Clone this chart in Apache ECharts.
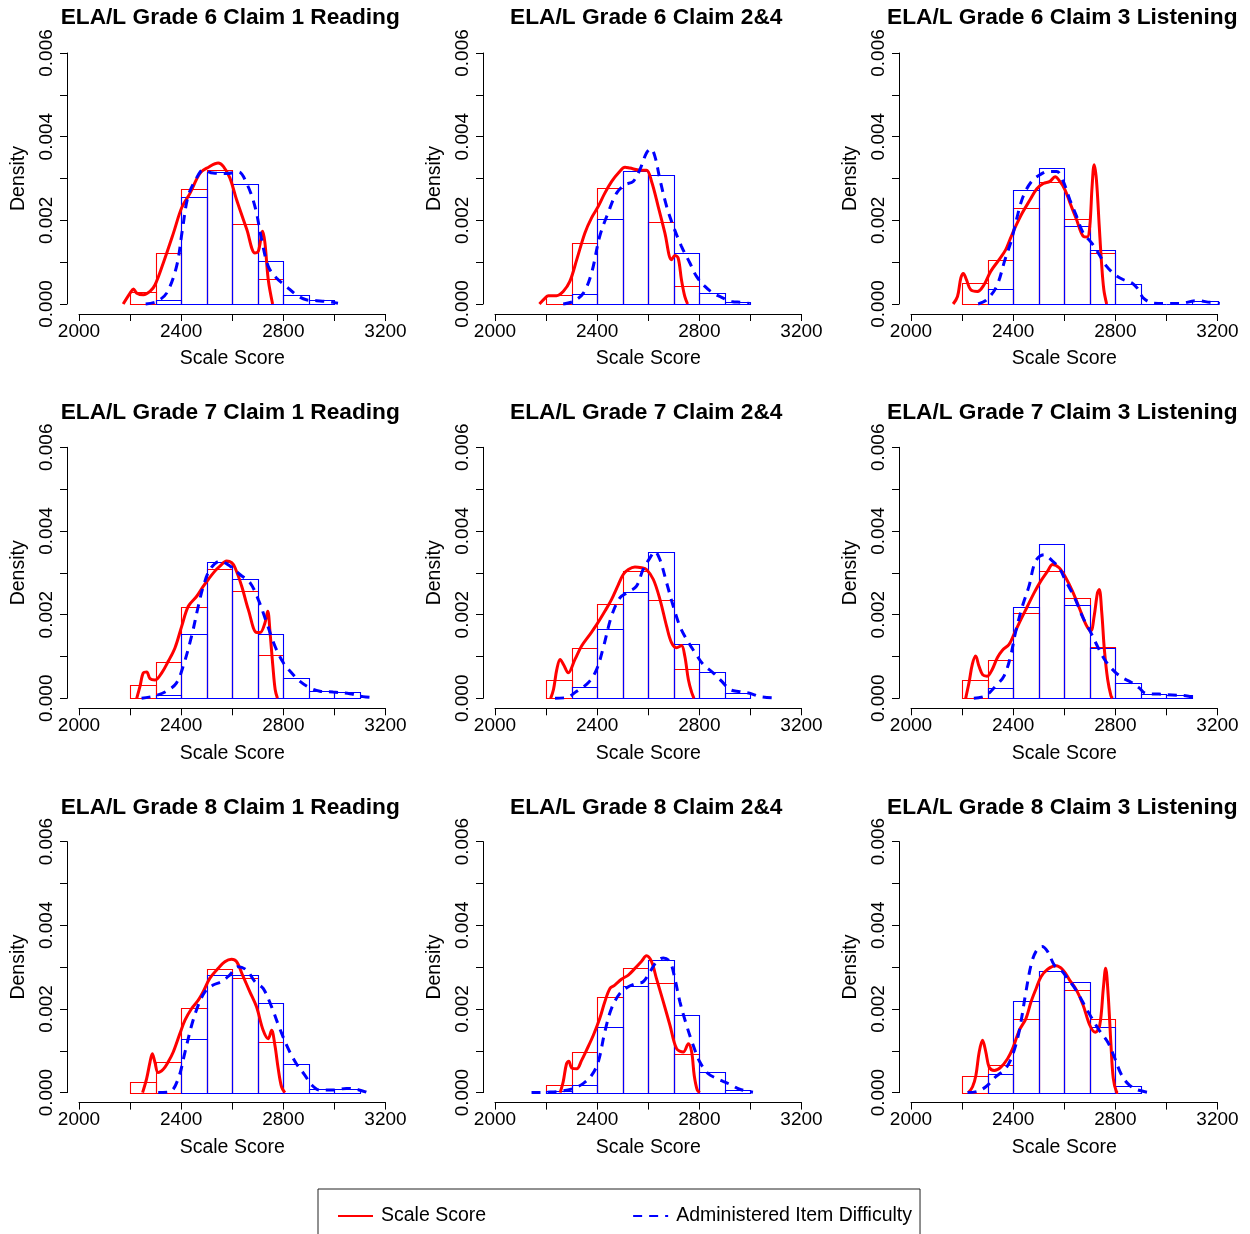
<!DOCTYPE html>
<html><head><meta charset="utf-8">
<script src="https://cdn.jsdelivr.net/npm/echarts@6/dist/echarts.min.js"></script>
<style>html,body{margin:0;padding:0;background:#fff}#c{width:1250px;height:1234px}</style>
</head><body><div id="c"></div><script>
const FONT = 'Liberation Sans';
const panelTitles = [
  'ELA/L Grade 6 Claim 1 Reading', 'ELA/L Grade 6 Claim 2&4', 'ELA/L Grade 6 Claim 3 Listening',
  'ELA/L Grade 7 Claim 1 Reading', 'ELA/L Grade 7 Claim 2&4', 'ELA/L Grade 7 Claim 3 Listening',
  'ELA/L Grade 8 Claim 1 Reading', 'ELA/L Grade 8 Claim 2&4', 'ELA/L Grade 8 Claim 3 Listening'
];
const seriesNames = ['Scale Score', 'Administered Item Difficulty'];
const xAxisTitle = 'Scale Score';
const yAxisTitle = 'Density';
const xTickLabels = ['2000', '2400', '2800', '3200'];
const yTickLabels = ['0.000', '0.002', '0.004', '0.006'];
const binStarts = [2200, 2300, 2400, 2500, 2600, 2700, 2800, 2900, 3000, 3100];
const binWidth = 100;

// Histogram densities per bin (null = no bin)
const g6c1ScaleHist = [0.00028, 0.00122, 0.00275, 0.00321, 0.00192, 0.00060];
const g6c1ItemHist  = [null, 0.00009, 0.00255, 0.00316, 0.00288, 0.00102, 0.00022, 0.00010];
const g6c24ScaleHist = [0.00022, 0.00146, 0.00278, 0.00317, 0.00195, 0.00044];
const g6c24ItemHist  = [null, 0.00023, 0.00202, 0.00317, 0.00309, 0.00122, 0.00026, 0.00004];
const g6c3ScaleHist = [0.00050, 0.00106, 0.00229, 0.00291, 0.00202, 0.00122];
const g6c3ItemHist  = [null, 0.00036, 0.00272, 0.00325, 0.00186, 0.00130, 0.00049, 0, 0, 0.00006];
const g7c1ScaleHist = [0.00031, 0.00087, 0.00219, 0.00309, 0.00256, 0.00103];
const g7c1ItemHist  = [null, 0.00008, 0.00153, 0.00325, 0.00285, 0.00153, 0.00048, 0.00017, 0.00014];
const g7c24ScaleHist = [0.00044, 0.00121, 0.00226, 0.00305, 0.00236, 0.00071];
const g7c24ItemHist  = [null, 0.00028, 0.00166, 0.00254, 0.00349, 0.00130, 0.00064, 0.00012];
const g7c3ScaleHist = [0.00044, 0.00091, 0.00204, 0.00305, 0.00240, 0.00122];
const g7c3ItemHist  = [null, 0.00024, 0.00219, 0.00368, 0.00223, 0.00121, 0.00037, 0.00010, 0.00008];
const g8c1ScaleHist = [0.00026, 0.00072, 0.00203, 0.00296, 0.00273, 0.00122];
const g8c1ItemHist  = [null, null, 0.00128, 0.00282, 0.00282, 0.00215, 0.00069, 0.00008, 0.00008];
const g8c24ScaleHist = [0.00019, 0.00096, 0.00229, 0.00298, 0.00261, 0.00093];
const g8c24ItemHist  = [0.00003, 0.00019, 0.00156, 0.00255, 0.00318, 0.00185, 0.00049, 0.00006];
const g8c3ScaleHist = [0.00039, 0.00065, 0.00175, 0.00291, 0.00246, 0.00175];
const g8c3ItemHist  = [null, 0.00045, 0.00219, 0.00291, 0.00265, 0.00156, 0.00016];

// Density curves [score, density]
const g6c1ScaleDens = [[2173,0],[2200,0.00026],[2213,0.00036],[2226,0.00026],[2252,0.00022],[2278,0.0003],[2298,0.00046],[2330,0.00098],[2370,0.0017],[2402,0.0023],[2435,0.00265],[2474,0.00313],[2507,0.00327],[2545,0.00337],[2565,0.00329],[2591,0.00301],[2617,0.00249],[2657,0.00178],[2689,0.00122],[2702,0.00126],[2719,0.00174],[2728,0.00146],[2741,0.00058],[2758,0]];
const g6c1ItemDens = [[2261,0],[2304,0.00006],[2343,0.00026],[2382,0.0009],[2405,0.00178],[2427,0.00257],[2460,0.00301],[2486,0.0032],[2525,0.00313],[2578,0.00312],[2624,0.00316],[2656,0.00289],[2689,0.00233],[2715,0.00154],[2741,0.0009],[2773,0.00062],[2812,0.00042],[2851,0.00022],[2890,0.0001],[2930,0.00008],[2969,0.00006],[3014,0.00002]];
const g6c24ScaleDens = [[2174,0],[2196,0.00014],[2209,0.0002],[2241,0.0002],[2267,0.0003],[2293,0.00054],[2320,0.00106],[2352,0.0017],[2378,0.00206],[2404,0.00233],[2430,0.00265],[2457,0.00293],[2483,0.00313],[2509,0.00327],[2528,0.00325],[2567,0.0032],[2593,0.0032],[2613,0.00293],[2639,0.00233],[2665,0.0017],[2691,0.00106],[2704,0.00116],[2717,0.0011],[2730,0.00058],[2743,0.00018],[2754,0]];
const g6c24ItemDens = [[2267,0],[2306,0.00006],[2346,0.00026],[2378,0.00074],[2410,0.00162],[2443,0.00218],[2476,0.00265],[2509,0.00285],[2541,0.00293],[2567,0.00321],[2593,0.00361],[2610,0.00371],[2626,0.00353],[2646,0.00297],[2672,0.00233],[2698,0.00186],[2730,0.00138],[2763,0.00098],[2789,0.00066],[2822,0.00042],[2854,0.00026],[2887,0.00016],[2926,0.00006],[2965,0.00004],[2997,0.00001]];
const g6c3ScaleDens = [[2165,0],[2182,0.00018],[2195,0.00062],[2205,0.00073],[2217,0.00058],[2234,0.00034],[2260,0.0003],[2286,0.00046],[2312,0.00078],[2345,0.00106],[2371,0.0013],[2390,0.00158],[2410,0.00186],[2436,0.00218],[2466,0.00249],[2492,0.00275],[2518,0.00288],[2544,0.00293],[2564,0.00304],[2583,0.00293],[2603,0.00273],[2623,0.00241],[2648,0.00202],[2674,0.00162],[2690,0.0016],[2700,0.00186],[2709,0.00281],[2717,0.00333],[2726,0.00297],[2737,0.00186],[2746,0.00098],[2755,0.00034],[2766,0]];
const g6c3ItemDens = [[2263,0],[2296,0.0001],[2335,0.00042],[2368,0.00106],[2394,0.00154],[2413,0.00202],[2439,0.00257],[2472,0.00293],[2505,0.00309],[2538,0.00317],[2570,0.00317],[2596,0.00293],[2622,0.00249],[2648,0.0021],[2674,0.0017],[2707,0.00146],[2733,0.00122],[2766,0.0009],[2799,0.0007],[2832,0.00058],[2865,0.0005],[2891,0.00034],[2910,0.00014],[2949,0.00002],[3000,0.00001],[3052,0.00001],[3117,0.00008],[3170,0.00004],[3209,0.00001]];
const g7c1ScaleDens = [[2226,0],[2239,0.00029],[2252,0.00061],[2265,0.00063],[2278,0.00047],[2298,0.00044],[2324,0.00061],[2350,0.00089],[2376,0.00121],[2402,0.00172],[2428,0.0022],[2461,0.00244],[2487,0.00268],[2506,0.00284],[2532,0.00304],[2552,0.00316],[2578,0.00328],[2598,0.00324],[2611,0.00312],[2637,0.00268],[2663,0.00212],[2696,0.00157],[2709,0.00157],[2728,0.0018],[2739,0.00208],[2748,0.00157],[2759,0.00077],[2768,0.00021],[2777,0]];
const g7c1ItemDens = [[2245,0],[2298,0.00006],[2343,0.00017],[2382,0.00037],[2408,0.00077],[2441,0.00149],[2467,0.0022],[2487,0.00268],[2513,0.00308],[2552,0.00328],[2591,0.00316],[2630,0.00296],[2670,0.00276],[2702,0.00236],[2735,0.0018],[2767,0.00125],[2800,0.00085],[2832,0.00061],[2864,0.00041],[2904,0.00025],[2943,0.00017],[2995,0.00015],[3060,0.00011],[3112,0.00004],[3164,0.00001]];
const g7c24ScaleDens = [[2218,0],[2229,0.00021],[2242,0.00069],[2255,0.00093],[2268,0.00081],[2287,0.00061],[2313,0.00093],[2339,0.00125],[2372,0.00153],[2398,0.00176],[2430,0.00208],[2456,0.00236],[2483,0.00272],[2502,0.00296],[2522,0.00308],[2548,0.00314],[2574,0.00312],[2593,0.00308],[2620,0.00284],[2646,0.00236],[2672,0.00172],[2691,0.00133],[2711,0.00121],[2730,0.00126],[2743,0.00101],[2757,0.00045],[2770,0.00014],[2779,0]];
const g7c24ItemDens = [[2235,0],[2281,0.00002],[2320,0.00017],[2365,0.00037],[2398,0.00069],[2424,0.00121],[2456,0.00196],[2489,0.0024],[2522,0.00254],[2554,0.00268],[2580,0.00308],[2607,0.00336],[2626,0.00351],[2646,0.00331],[2672,0.00276],[2698,0.0022],[2724,0.00172],[2750,0.00141],[2783,0.00109],[2815,0.00081],[2854,0.00061],[2887,0.00041],[2920,0.00021],[2958,0.00016],[2997,0.00012],[3037,0.00004],[3089,0.00001]];
const g7c3ScaleDens = [[2214,0],[2227,0.00037],[2240,0.00081],[2253,0.00101],[2266,0.00077],[2281,0.00056],[2298,0.00053],[2318,0.00069],[2338,0.00097],[2358,0.00115],[2384,0.00129],[2403,0.00153],[2430,0.00188],[2456,0.0022],[2482,0.00252],[2508,0.0028],[2535,0.00304],[2554,0.0032],[2580,0.00312],[2606,0.00288],[2632,0.00256],[2659,0.00216],[2685,0.00176],[2704,0.00161],[2717,0.00196],[2730,0.00252],[2737,0.0026],[2747,0.00204],[2757,0.00117],[2770,0.00045],[2783,0.00006],[2789,0]];
const g7c3ItemDens = [[2246,0],[2292,0.00006],[2331,0.00029],[2364,0.00053],[2390,0.00101],[2409,0.00157],[2436,0.0022],[2462,0.00268],[2488,0.00328],[2521,0.00343],[2554,0.00328],[2580,0.00312],[2606,0.0028],[2638,0.00244],[2671,0.00196],[2704,0.00157],[2736,0.00117],[2762,0.00089],[2795,0.00065],[2828,0.00049],[2860,0.00039],[2893,0.00025],[2919,0.00012],[2971,0.0001],[3023,0.00008],[3075,0.00006],[3115,0.00001]];
const g8c1ScaleDens = [[2249,0],[2265,0.00034],[2278,0.00073],[2287,0.00093],[2297,0.00073],[2310,0.00048],[2330,0.00056],[2349,0.00073],[2369,0.00097],[2395,0.00141],[2415,0.00173],[2441,0.00201],[2467,0.00221],[2486,0.00241],[2512,0.00273],[2545,0.00297],[2571,0.00313],[2597,0.00319],[2617,0.00313],[2643,0.00277],[2669,0.00241],[2695,0.00205],[2721,0.00149],[2741,0.00129],[2754,0.00149],[2767,0.00113],[2780,0.00057],[2793,0.00014],[2806,0]];
const g8c1ItemDens = [[2310,0],[2356,0.00002],[2389,0.00034],[2415,0.00097],[2441,0.00161],[2467,0.00209],[2493,0.00241],[2525,0.00257],[2558,0.00265],[2590,0.00281],[2623,0.00301],[2656,0.00293],[2689,0.00265],[2721,0.00249],[2754,0.00205],[2786,0.00153],[2819,0.00105],[2851,0.00069],[2884,0.00042],[2910,0.00019],[2943,0.00006],[2995,0.00006],[3047,0.0001],[3093,0.00007],[3125,0.00001]];
const g8c24ScaleDens = [[2255,0],[2267,0.00026],[2280,0.00069],[2289,0.00075],[2300,0.00059],[2320,0.00057],[2339,0.00077],[2358,0.00101],[2385,0.00137],[2410,0.00177],[2430,0.00217],[2450,0.00249],[2469,0.00257],[2495,0.00271],[2522,0.00281],[2548,0.00297],[2574,0.00314],[2593,0.00327],[2613,0.00313],[2632,0.00273],[2659,0.00217],[2685,0.00161],[2711,0.00105],[2737,0.00097],[2757,0.00117],[2770,0.00097],[2780,0.00041],[2792,0.00006],[2802,0]];
const g8c24ItemDens = [[2143,0],[2202,0.00001],[2255,0.00003],[2307,0.0001],[2346,0.00022],[2378,0.00041],[2404,0.00073],[2430,0.00145],[2456,0.00201],[2489,0.00237],[2522,0.00253],[2554,0.00261],[2580,0.00265],[2607,0.00289],[2633,0.00313],[2659,0.00322],[2685,0.00313],[2704,0.00273],[2724,0.00217],[2750,0.00161],[2776,0.00113],[2802,0.00073],[2835,0.00045],[2867,0.00034],[2893,0.00027],[2926,0.00018],[2958,0.00008],[3010,0.00001]];
const g8c3ScaleDens = [[2225,0],[2241,0.00014],[2254,0.00041],[2267,0.00097],[2280,0.00125],[2293,0.00097],[2306,0.00061],[2326,0.00053],[2352,0.00061],[2378,0.00081],[2398,0.00105],[2424,0.00149],[2450,0.00177],[2470,0.00217],[2490,0.00249],[2509,0.00277],[2535,0.00295],[2568,0.00303],[2595,0.00293],[2621,0.00269],[2648,0.00245],[2674,0.00209],[2700,0.00161],[2722,0.00144],[2739,0.00161],[2753,0.00249],[2762,0.00297],[2772,0.00233],[2783,0.00113],[2792,0.00034],[2805,0.00001],[2811,0]];
const g8c3ItemDens = [[2221,0],[2260,0.00003],[2293,0.00014],[2332,0.00038],[2371,0.00058],[2397,0.00089],[2423,0.00145],[2450,0.00241],[2470,0.00305],[2489,0.00337],[2513,0.00349],[2535,0.00337],[2561,0.00305],[2587,0.00293],[2613,0.00273],[2646,0.00245],[2672,0.00217],[2705,0.00181],[2737,0.00149],[2770,0.00121],[2796,0.00085],[2822,0.00045],[2848,0.00022],[2880,0.00008],[2933,0]];

const panelScaleHists = [g6c1ScaleHist, g6c24ScaleHist, g6c3ScaleHist, g7c1ScaleHist, g7c24ScaleHist, g7c3ScaleHist, g8c1ScaleHist, g8c24ScaleHist, g8c3ScaleHist];
const panelItemHists = [g6c1ItemHist, g6c24ItemHist, g6c3ItemHist, g7c1ItemHist, g7c24ItemHist, g7c3ItemHist, g8c1ItemHist, g8c24ItemHist, g8c3ItemHist];
const panelScaleDens = [g6c1ScaleDens, g6c24ScaleDens, g6c3ScaleDens, g7c1ScaleDens, g7c24ScaleDens, g7c3ScaleDens, g8c1ScaleDens, g8c24ScaleDens, g8c3ScaleDens];
const panelItemDens = [g6c1ItemDens, g6c24ItemDens, g6c3ItemDens, g7c1ItemDens, g7c24ItemDens, g7c3ItemDens, g8c1ItemDens, g8c24ItemDens, g8c3ItemDens];

// Layout
const COL_X0 = 79, COL_STEP = 416, PLOT_W = 306.5;
const ROW_Y0 = 53, ROW_STEP = 394.3, PLOT_H = 251;
const RED = '#ff0000', BLUE = '#0000ff';

function histData(arr) {
  const out = [];
  arr.forEach((h, i) => { if (h !== null && h !== undefined) out.push([binStarts[i], binStarts[i] + binWidth, h]); });
  return out;
}
function histRender(color) {
  return function (params, api) {
    const p0 = api.coord([api.value(0), api.value(2)]);
    const p1 = api.coord([api.value(1), 0]);
    const x0 = Math.round(p0[0]) + 0.5, x1 = Math.round(p1[0]) + 0.5;
    const y0 = Math.round(p0[1]) + 0.5, y1 = Math.round(p1[1]) + 0.5;
    return {
      type: 'rect',
      shape: { x: x0, y: y0, width: x1 - x0, height: y1 - y0 },
      style: { fill: 'none', stroke: color, lineWidth: 1.1 }
    };
  };
}

const grids = [], xAxes = [], yAxes = [], series = [], graphics = [];
for (let i = 0; i < 9; i++) {
  const r = Math.floor(i / 3), c = i % 3;
  const left = COL_X0 + COL_STEP * c, top = ROW_Y0 + ROW_STEP * r;
  grids.push({ left: left, top: top, width: PLOT_W, height: PLOT_H, outerBoundsMode: 'none', containLabel: false });
  xAxes.push({
    type: 'value', gridIndex: i, min: 2000, max: 3200, interval: 200, offset: 10,
    name: xAxisTitle, nameLocation: 'middle', nameGap: 35,
    nameTextStyle: { fontFamily: FONT, fontSize: 19.5, color: '#000' },
    axisLine: { show: true, onZero: false, lineStyle: { color: '#000', width: 1 } },
    axisTick: { show: true, inside: false, length: 7, lineStyle: { color: '#000', width: 1 } },
    axisLabel: { show: true, margin: 8, fontFamily: FONT, fontSize: 19, color: '#000',
      formatter: v => xTickLabels.indexOf(String(v)) >= 0 ? String(v) : '' },
    splitLine: { show: false }
  });
  yAxes.push({
    type: 'value', gridIndex: i, min: 0, max: 0.006, interval: 0.001, offset: 12,
    name: yAxisTitle, nameLocation: 'middle', nameGap: 38, nameRotate: 90,
    nameTextStyle: { fontFamily: FONT, fontSize: 19.5, color: '#000' },
    axisLine: { show: true, onZero: false, lineStyle: { color: '#000', width: 1 } },
    axisTick: { show: true, inside: false, length: 7, lineStyle: { color: '#000', width: 1 } },
    axisLabel: { show: true, rotate: 90, margin: 11, fontFamily: FONT, fontSize: 19, color: '#000',
      formatter: v => { const s = v.toFixed(3); return yTickLabels.indexOf(s) >= 0 ? s : ''; } },
    splitLine: { show: false }
  });
  series.push({
    type: 'custom', name: 'scaleHist', xAxisIndex: i, yAxisIndex: i, z: 2,
    renderItem: histRender(RED), encode: { x: [0, 1], y: 2 }, data: histData(panelScaleHists[i]), clip: false
  });
  series.push({
    type: 'custom', name: 'itemHist', xAxisIndex: i, yAxisIndex: i, z: 3,
    renderItem: histRender(BLUE), encode: { x: [0, 1], y: 2 }, data: histData(panelItemHists[i]), clip: false
  });
  series.push({
    type: 'line', name: seriesNames[0], xAxisIndex: i, yAxisIndex: i, z: 4,
    data: panelScaleDens[i], showSymbol: false, symbol: 'none', smooth: 0.35, clip: false,
    lineStyle: { color: RED, width: 3, type: 'solid' }, itemStyle: { color: RED }
  });
  series.push({
    type: 'line', name: seriesNames[1], xAxisIndex: i, yAxisIndex: i, z: 5,
    data: panelItemDens[i], showSymbol: false, symbol: 'none', smooth: 0.35, clip: false,
    lineStyle: { color: BLUE, width: 3, type: [9, 7] }, itemStyle: { color: BLUE }
  });
  graphics.push({
    type: 'text', x: left + PLOT_W / 2 - 2, y: 17.5 + 395 * r,
    style: { text: panelTitles[i], fontFamily: FONT, fontWeight: 'bold', fontSize: 22.7, fill: '#000', align: 'center', verticalAlign: 'middle' }
  });
}

const chart = echarts.init(document.getElementById('c'), null, { renderer: 'canvas' });
chart.setOption({
  animation: false,
  backgroundColor: '#fff',
  grid: grids, xAxis: xAxes, yAxis: yAxes, series: series,
  graphic: graphics,
  legend: {
    data: seriesNames, left: 318, top: 1189,
    padding: [17, 8, 40, 19], itemGap: 146, itemWidth: 35, itemHeight: 14,
    itemStyle: { opacity: 0 },
    borderColor: '#222', borderWidth: 1, borderRadius: 0,
    textStyle: { fontFamily: FONT, fontSize: 19.5, color: '#000', padding: [0, 0, 0, 3] },
    selectedMode: false
  }
});
</script></body></html>
